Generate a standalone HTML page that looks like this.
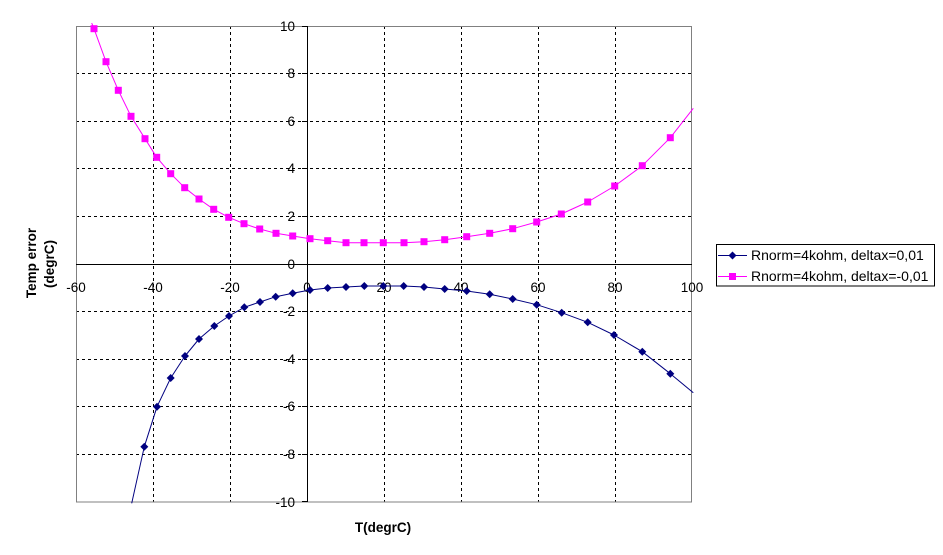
<!DOCTYPE html>
<html><head><meta charset="utf-8">
<style>
html,body{margin:0;padding:0;background:#fff;}
svg{display:block;}
text{font-family:"Liberation Sans",Arial,sans-serif;}
</style></head>
<body>
<svg width="943" height="555" viewBox="0 0 943 555" xmlns="http://www.w3.org/2000/svg">
<defs>
<path id="dia" d="M0,-4 L4,0 L0,4 L-4,0 Z" fill="#000080"/>
<rect id="sq" x="-3.5" y="-3.5" width="7" height="7" fill="#FF00FF"/>
</defs>
<rect width="943" height="555" fill="#fff"/>
<!-- gridlines -->
<g stroke="#000" stroke-width="1" stroke-dasharray="3,3" fill="none">
<line x1="153.5" y1="26" x2="153.5" y2="502"/>
<line x1="230.5" y1="26" x2="230.5" y2="502"/>
<line x1="384.5" y1="26" x2="384.5" y2="502"/>
<line x1="461.5" y1="26" x2="461.5" y2="502"/>
<line x1="538.5" y1="26" x2="538.5" y2="502"/>
<line x1="615.5" y1="26" x2="615.5" y2="502"/>
<line x1="76" y1="73.5" x2="692" y2="73.5"/>
<line x1="76" y1="121.5" x2="692" y2="121.5"/>
<line x1="76" y1="168.5" x2="692" y2="168.5"/>
<line x1="76" y1="216.5" x2="692" y2="216.5"/>
<line x1="76" y1="311.5" x2="692" y2="311.5"/>
<line x1="76" y1="359.5" x2="692" y2="359.5"/>
<line x1="76" y1="406.5" x2="692" y2="406.5"/>
<line x1="76" y1="454.5" x2="692" y2="454.5"/>
</g>
<!-- frame -->
<rect x="76.5" y="26.5" width="615" height="475.5" fill="none" stroke="#808080" stroke-width="1"/>
<!-- axes -->
<line x1="76" y1="264.5" x2="692" y2="264.5" stroke="#000" stroke-width="1"/>
<line x1="307.5" y1="26" x2="307.5" y2="502" stroke="#000" stroke-width="1"/>
<g stroke="#000" stroke-width="1">
<line x1="302" y1="26.5" x2="307" y2="26.5"/>
<line x1="302" y1="73.5" x2="307" y2="73.5"/>
<line x1="302" y1="121.5" x2="307" y2="121.5"/>
<line x1="302" y1="168.5" x2="307" y2="168.5"/>
<line x1="302" y1="216.5" x2="307" y2="216.5"/>
<line x1="302" y1="264.5" x2="307" y2="264.5"/>
<line x1="302" y1="311.5" x2="307" y2="311.5"/>
<line x1="302" y1="359.5" x2="307" y2="359.5"/>
<line x1="302" y1="406.5" x2="307" y2="406.5"/>
<line x1="302" y1="454.5" x2="307" y2="454.5"/>
<line x1="302" y1="501.5" x2="307" y2="501.5"/>
</g>
<!-- y tick labels -->
<g font-size="13.5" text-anchor="end" fill="#000">
<text x="295" y="31">10</text>
<text x="295" y="78">8</text>
<text x="295" y="126">6</text>
<text x="295" y="173">4</text>
<text x="295" y="221">2</text>
<text x="295" y="269">0</text>
<text x="295" y="316">-2</text>
<text x="295" y="364">-4</text>
<text x="295" y="411">-6</text>
<text x="295" y="459">-8</text>
<text x="295" y="507">-10</text>
</g>
<!-- x tick labels -->
<g font-size="13.5" text-anchor="middle" fill="#000">
<text x="76" y="292">-60</text>
<text x="153" y="292">-40</text>
<text x="230" y="292">-20</text>
<text x="307" y="292">0</text>
<text x="384" y="292">20</text>
<text x="461" y="292">40</text>
<text x="538" y="292">60</text>
<text x="615" y="292">80</text>
<text x="692" y="292">100</text>
</g>
<!-- axis titles -->
<text x="383" y="532" font-size="13.5" font-weight="bold" text-anchor="middle">T(degrC)</text>
<text transform="translate(36,263) rotate(-90)" font-size="13.5" font-weight="bold" text-anchor="middle">Temp error</text>
<text transform="translate(54,264) rotate(-90)" font-size="13.5" font-weight="bold" text-anchor="middle">(degrC)</text>
<!-- pink series -->
<polyline fill="none" stroke="#FF00FF" stroke-width="1" stroke-linejoin="round" points="91.7,23 94,28.7 106,61.7 118.3,90.3 131,116.3 145,138.7 156.7,157.3 170.7,173.7 184.7,187.7 199,199 213.7,209.3 228.7,217.3 244,223.7 259.7,229 276,233.3 292.7,236 310,238.7 327.7,240.7 346,242.7 364,242.7 383.3,242.7 404,242.7 424,241.7 444.7,239.7 466.7,236.7 489.7,233.3 512.7,228.7 536.7,222 561.3,214 587.7,202 614.7,186 642.3,165.7 670.3,137.7 693.3,108.3"/>
<g>
<use href="#sq" x="94" y="28.7"/><use href="#sq" x="106" y="61.7"/><use href="#sq" x="118.3" y="90.3"/><use href="#sq" x="131" y="116.3"/><use href="#sq" x="145" y="138.7"/><use href="#sq" x="156.7" y="157.3"/><use href="#sq" x="170.7" y="173.7"/><use href="#sq" x="184.7" y="187.7"/><use href="#sq" x="199" y="199"/><use href="#sq" x="213.7" y="209.3"/><use href="#sq" x="228.7" y="217.3"/><use href="#sq" x="244" y="223.7"/><use href="#sq" x="259.7" y="229"/><use href="#sq" x="276" y="233.3"/><use href="#sq" x="292.7" y="236"/><use href="#sq" x="310" y="238.7"/><use href="#sq" x="327.7" y="240.7"/><use href="#sq" x="346" y="242.7"/><use href="#sq" x="364" y="242.7"/><use href="#sq" x="383.3" y="242.7"/><use href="#sq" x="404" y="242.7"/><use href="#sq" x="424" y="241.7"/><use href="#sq" x="444.7" y="239.7"/><use href="#sq" x="466.7" y="236.7"/><use href="#sq" x="489.7" y="233.3"/><use href="#sq" x="512.7" y="228.7"/><use href="#sq" x="536.7" y="222"/><use href="#sq" x="561.3" y="214"/><use href="#sq" x="587.7" y="202"/><use href="#sq" x="614.7" y="186"/><use href="#sq" x="642.3" y="165.7"/><use href="#sq" x="670.3" y="137.7"/>
</g>
<!-- blue series -->
<polyline fill="none" stroke="#000080" stroke-width="1" stroke-linejoin="round" points="131.7,503.3 144.3,446.7 157,406.7 170.7,378 185,356 199,339 214.3,326 229,316 244.3,307.3 260,302 275.7,296.7 292.7,293.3 310,290 327.7,288 346,287 364.3,286 383.3,286 403.7,286 424,287 444.7,289 466.7,291 489.7,294.3 512.7,299 536.7,304.7 561.7,312.7 587.7,322.3 614,335 642.3,351.7 670.3,373.7 693.3,392.7"/>
<g>
<use href="#dia" x="144.3" y="446.7"/><use href="#dia" x="157" y="406.7"/><use href="#dia" x="170.7" y="378"/><use href="#dia" x="185" y="356"/><use href="#dia" x="199" y="339"/><use href="#dia" x="214.3" y="326"/><use href="#dia" x="229" y="316"/><use href="#dia" x="244.3" y="307.3"/><use href="#dia" x="260" y="302"/><use href="#dia" x="275.7" y="296.7"/><use href="#dia" x="292.7" y="293.3"/><use href="#dia" x="310" y="290"/><use href="#dia" x="327.7" y="288"/><use href="#dia" x="346" y="287"/><use href="#dia" x="364.3" y="286"/><use href="#dia" x="383.3" y="286"/><use href="#dia" x="403.7" y="286"/><use href="#dia" x="424" y="287"/><use href="#dia" x="444.7" y="289"/><use href="#dia" x="466.7" y="291"/><use href="#dia" x="489.7" y="294.3"/><use href="#dia" x="512.7" y="299"/><use href="#dia" x="536.7" y="304.7"/><use href="#dia" x="561.7" y="312.7"/><use href="#dia" x="587.7" y="322.3"/><use href="#dia" x="614" y="335"/><use href="#dia" x="642.3" y="351.7"/><use href="#dia" x="670.3" y="373.7"/>
</g>
<!-- legend -->
<rect x="716.5" y="244.5" width="218" height="41.5" fill="#fff" stroke="#000" stroke-width="1"/>
<line x1="718" y1="255.5" x2="747" y2="255.5" stroke="#000080" stroke-width="1"/>
<use href="#dia" x="732.5" y="255.5"/>
<text x="751" y="260" font-size="14">Rnorm=4kohm, deltax=0,01</text>
<line x1="718" y1="276.5" x2="747" y2="276.5" stroke="#FF00FF" stroke-width="1"/>
<use href="#sq" x="732.5" y="276.5"/>
<text x="751" y="281" font-size="14">Rnorm=4kohm, deltax=-0,01</text>
</svg>
</body></html>
